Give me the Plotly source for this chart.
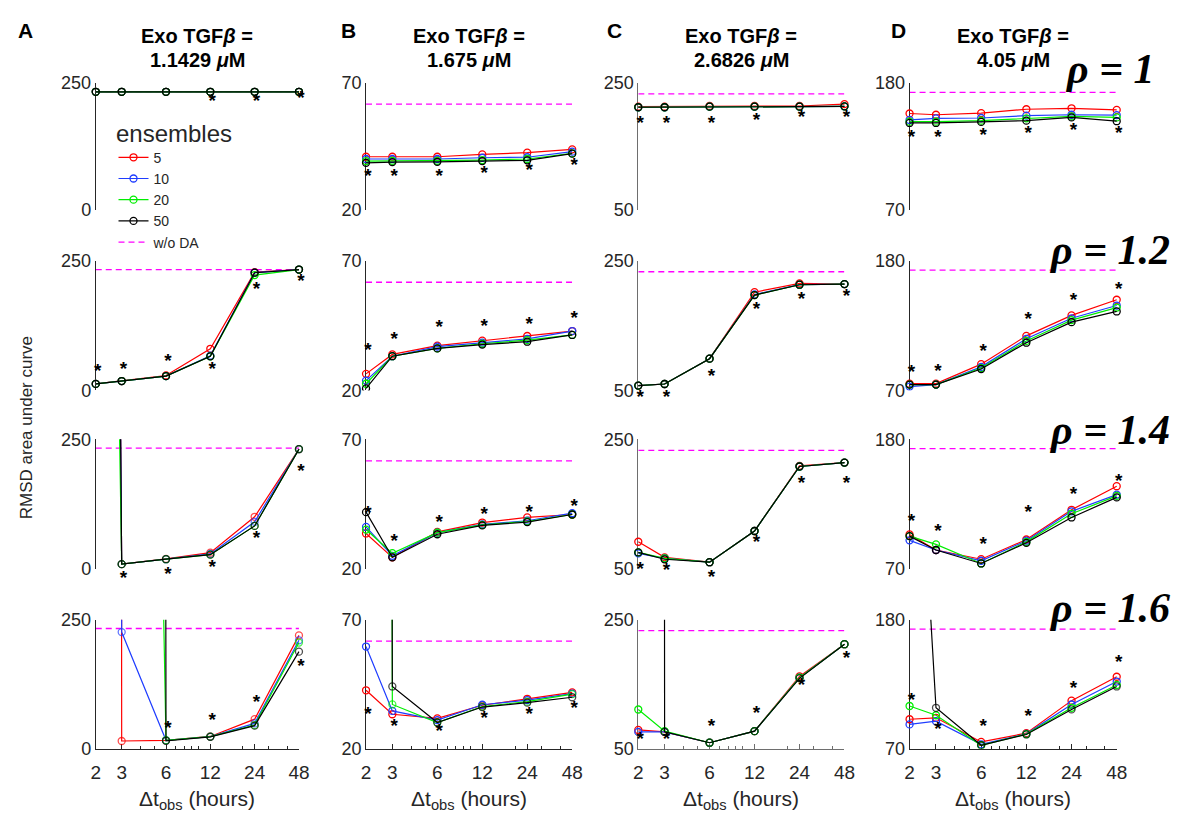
import math
import plotly.graph_objects as go

# ---- data -------------------------------------------------------------
dt_hours = [2, 3, 6, 12, 24, 48]
dt_labels = ["2", "3", "6", "12", "24", "48"]
ensemble_sizes = ["5", "10", "20", "50"]
series_colors = ["#ff0000", "#1f3dff", "#00ee00", "#000000"]
tgf_doses = ["1.1429", "1.675", "2.6826", "4.05"]
rho_values = ["1", "1.2", "1.4", "1.6"]
panel_letters = ["A", "B", "C", "D"]
y_ranges = [[0, 250], [20, 70], [50, 250], [70, 180]]
no_da = [233, 61.7, 233, 172]          # RMSD without data assimilation

# each list: one row per rho (1, 1.2, 1.4, 1.6), one value per Δt_obs
# (values far above the axis top diverged and run off the panel)
A_n5 = [[233, 233, 233, 233, 233, 233],
        [12.6, 18.2, 28.8, 80.3, 228, 233],
        [6000, 9.4, 19.5, 31.4, 100.6, 231],
        [60000, 14.6, 15.8, 23.4, 57, 219.6]]
A_n10 = [[233, 233, 233, 233, 233, 233],
         [12.6, 18.2, 27.6, 67, 227, 233],
         [6000, 9.4, 18.9, 29, 91, 231],
         [60000, 226, 16, 23, 48.8, 210]]
A_n20 = [[233, 233, 233, 233, 233, 233],
         [12.6, 18.2, 27.6, 65.8, 222.4, 233],
         [3000, 9.4, 18.9, 27.6, 83, 231],
         [60000, 4600, 16, 23, 45.6, 205.7]]
A_n50 = [[233, 233, 233, 233, 233, 233],
         [12.6, 18.2, 27.6, 65.8, 226.9, 233],
         [6000, 9.4, 18.9, 27.6, 83, 230.8],
         [60000, 60000, 15, 22.7, 44.4, 188]]
A_star = [[None, None, None, 213, 213, 219],
          [34.4, 39.5, 54.5, 39.5, 194, 208],
          [None, -19, -12.6, 1, 56.6, 187],
          [None, None, 38, 52, 87, 157]]

B_n5 = [[41.0, 41.0, 41.0, 41.9, 42.6, 43.9],
        [26.4, 33.9, 37.3, 39.2, 41.0, 42.9],
        [33.7, 24.5, 34.3, 37.9, 39.9, 41.0],
        [42.6, 33.3, 31.7, 36.8, 39.3, 41.8]]
B_n10 = [[40.1, 40.1, 40.1, 40.6, 40.8, 43.0],
         [23.8, 33.2, 36.9, 38.4, 39.9, 42.9],
         [36.2, 25.1, 34.0, 37.2, 38.6, 41.5],
         [59.6, 34.6, 31.0, 37.0, 38.8, 41.3]]
B_n20 = [[39.3, 39.4, 39.4, 39.7, 40.1, 42.3],
         [22.6, 33.2, 36.2, 38.0, 39.4, 41.4],
         [35.2, 26.1, 34.0, 37.0, 38.3, 41.0],
         [5000, 37.1, 30.1, 36.3, 38.2, 41.1]]
B_n50 = [[38.6, 38.9, 39.0, 39.3, 39.6, 42.2],
         [20.8, 33.2, 36.2, 37.7, 38.8, 41.4],
         [41.9, 24.5, 33.4, 36.8, 38.1, 41.0],
         [5000, 44.1, 30.1, 36.1, 37.8, 39.9]]
B_star = [[33.1, 33.1, 33.1, 34.1, 35.4, 37.2],
          [35, 39.5, 44, 44.4, 45.2, 47.4],
          [41.2, 30.5, 37.7, 40.6, 41.6, 43.8],
          [33, 28.3, 26.4, 31.2, 33.1, 35.2]]

C_n5 = [[213, 213, 214, 214, 214, 217],
        [57.5, 60, 99, 201.5, 215, 214],
        [92, 68, 60.5, 108.6, 209, 214],
        [78.8, 75.8, 59, 77, 162, 212]]
C_n10 = [[212, 212, 213, 213, 213, 213.5],
         [57.5, 60, 99, 198, 213, 214],
         [74, 66.5, 60.5, 108.6, 208, 214],
         [75.8, 75.8, 59, 77, 160, 212]]
C_n20 = [[212, 212, 213, 213, 213, 213.5],
         [57.5, 60, 99, 197, 213, 214],
         [75.6, 66.5, 60.5, 108.6, 208, 214],
         [110.6, 77, 59, 77, 160, 212]]
C_n50 = [[212, 212, 213, 213, 213, 213.5],
         [57.5, 60, 99, 197, 213, 214],
         [75.6, 65, 60.5, 108.6, 208, 214],
         [60000, 75.8, 59, 77, 159, 212]]
C_star = [[185, 185, 185, 190, 194, 194],
          [37.5, 37.5, 70, 173, 189, 193],
          [48.5, 47, 35, 89, 181, 181],
          [63.6, 63.6, 83, 103, 147, 188]]

D_n5 = [[153.7, 152.6, 154.0, 157.4, 158.2, 156.8],
        [75.8, 75.8, 92.3, 116.3, 133.7, 146.9],
        [99.3, 86.1, 78.3, 95, 120.2, 140.2],
        [95, 96.2, 75.6, 83.1, 110.9, 131.3]]
D_n10 = [[148.1, 149.5, 149.8, 151.8, 152.6, 152.3],
         [73.3, 75.0, 90, 113.8, 131.2, 142],
         [94.3, 86.1, 77, 94, 118.9, 133.1],
         [90.6, 93.3, 73.6, 82.5, 107.6, 127.2]]
D_n20 = [[146.6, 146.6, 147.5, 149.5, 151.2, 150.3],
         [75, 75, 89, 112, 129.6, 140.3],
         [97.9, 90.9, 74.7, 93, 116.8, 132],
         [106.3, 98.4, 72.8, 82.3, 104.8, 124.3]]
D_n50 = [[145.5, 145.5, 146.4, 147.5, 150.3, 147.0],
         [75, 75, 88.2, 110.5, 127.9, 137],
         [97.9, 86.1, 74.7, 92.2, 113.7, 130.7],
         [490, 104.8, 72.8, 82, 103.4, 123]]
D_star = [[132, 132, 134, 136, 138, 136],
          [84.9, 85.7, 102.3, 129.6, 146, 155],
          [109.8, 100.9, 89.8, 117.4, 132.8, 143.9],
          [110.4, 85.9, 88.1, 96.5, 120.7, 143]]

columns = [
    [A_n5, A_n10, A_n20, A_n50],
    [B_n5, B_n10, B_n20, B_n50],
    [C_n5, C_n10, C_n20, C_n50],
    [D_n5, D_n10, D_n20, D_n50],
]
stars = [A_star, B_star, C_star, D_star]

# ---- layout geometry (pixels on a 1180 x 819 page) ----------------------
W, H = 1180, 819
col_px = [(92, 298), (366, 575), (642, 851), (917, 1127)]
row_px = [(75, 205), (257, 390), (440, 573), (625, 757)]
letter_px = [21, 348, 618, 906]
axis_grey = ["#262626", "#262626", "#6e6e6e", "#262626"]
FONT = "Liberation Sans, Arial, Helvetica, sans-serif"
TXT = "#262626"
X_PAD = 8      # hidden data axes reach a little past the drawn x axis
Y_PAD = 30     # room for significance stars outside the value range
NP = 16


def px_x(x):
    return x / W


def px_y(y):
    return 1 - y / H


def ax_name(kind, i):
    return kind if i == 1 else f"{kind}{i}"


def ax_key(kind, i):
    return f"{kind}axis" if i == 1 else f"{kind}axis{i}"


fig = go.Figure()
layout = dict(
    width=W, height=H, margin=dict(l=0, r=0, t=0, b=0),
    paper_bgcolor="white", plot_bgcolor="rgba(0,0,0,0)",
    font=dict(family=FONT, color=TXT, size=17),
    showlegend=True,
)
annotations = []
log_lo, log_hi = math.log10(dt_hours[0]), math.log10(dt_hours[-1])

for c in range(4):
    x0, x1 = col_px[c]
    px_per_dec = (x1 - x0) / (log_hi - log_lo)
    dlog = X_PAD / px_per_dec
    for r in range(4):
        k = r * 4 + c + 1
        kd = k + NP               # hidden data axes for this panel
        y0, y1 = row_px[r]
        lo, hi = y_ranges[c]
        px_per_unit = (y1 - y0) / (hi - lo)
        dval = Y_PAD / px_per_unit
        bottom = r == 3

        # drawn axes
        xa = dict(
            domain=[px_x(x0), px_x(x1)], anchor=ax_name("y", k), type="log",
            range=[log_lo, log_hi], showgrid=False, zeroline=False,
            fixedrange=True,
        )
        if bottom:
            xa.update(
                showline=True, linecolor=axis_grey[c], linewidth=1,
                ticks="inside", ticklen=5, tickcolor=axis_grey[c],
                tickmode="array", tickvals=dt_hours, ticktext=dt_labels,
                tickfont=dict(size=19, color=TXT), ticklabelstandoff=7,
                minor=dict(ticks="inside", ticklen=3, tickcolor=axis_grey[c],
                           tickmode="array",
                           tickvals=[4, 5, 7, 8, 9, 10, 20, 30, 40]),
            )
        else:
            xa.update(showline=False, ticks="", showticklabels=False)
        layout[ax_key("x", k)] = xa
        layout[ax_key("y", k)] = dict(
            domain=[px_y(y1), px_y(y0)], anchor=ax_name("x", k),
            range=[lo, hi],
            showline=True, linecolor=axis_grey[c], linewidth=1,
            ticks="inside", ticklen=5, tickcolor=axis_grey[c],
            tickmode="array", tickvals=[lo, hi],
            tickfont=dict(size=18, color=TXT),
            showgrid=False, zeroline=False, fixedrange=True,
        )

        # hidden data axes: same scale, slightly larger window
        layout[ax_key("x", kd)] = dict(
            domain=[px_x(x0 - X_PAD), px_x(x1 + X_PAD)],
            anchor=ax_name("y", k), type="log",
            range=[log_lo - dlog, log_hi + dlog], visible=False,
            fixedrange=True,
        )
        layout[ax_key("y", kd)] = dict(
            domain=[px_y(y1 + Y_PAD), px_y(y0 - Y_PAD)],
            anchor=ax_name("x", kd), range=[lo - dval, hi + dval],
            visible=False, fixedrange=True,
        )

        xk, yk = ax_name("x", k), ax_name("y", k)
        xd, yd = ax_name("x", kd), ax_name("y", kd)

        for s in range(4):
            vals = columns[c][s][r]
            inside = [lo <= v <= hi for v in vals]
            size = 7 if all(inside) else [7 if f else 0 for f in inside]
            fig.add_trace(go.Scatter(
                x=dt_hours, y=vals, xaxis=xd, yaxis=yk,
                mode="lines+markers", name=ensemble_sizes[s],
                legendgroup=ensemble_sizes[s], showlegend=(k == 1),
                line=dict(color=series_colors[s], width=1.2),
                marker=dict(symbol="circle-open", size=size,
                            color=series_colors[s],
                            line=dict(width=1.3, color=series_colors[s])),
                cliponaxis=True,
            ))

        # reference level without assimilation, on the drawn axes
        fig.add_trace(go.Scatter(
            x=dt_hours, y=[no_da[c]] * len(dt_hours), xaxis=xk, yaxis=yk,
            mode="lines", name="w/o DA", legendgroup="noda",
            showlegend=(k == 1),
            line=dict(color="#ff00ff", width=1.3, dash="6px,4px"),
        ))

        sx = [t * 1.03 for t, v in zip(dt_hours, stars[c][r]) if v is not None]
        sy = [v for v in stars[c][r] if v is not None]
        fig.add_trace(go.Scatter(
            x=sx, y=sy, xaxis=xd, yaxis=yd, mode="text",
            text=["<b>*</b>"] * len(sx), textposition="middle center",
            textfont=dict(size=19, family=FONT, color="black"),
            cliponaxis=False, showlegend=False, hoverinfo="skip",
        ))

    # column heading and panel letter
    cx = (x0 + x1) / 2
    for line_text, ly in ((f"<b>Exo TGF<i>β</i> =</b>", 27),
                          (f"<b>{tgf_doses[c]} <i>μ</i>M</b>", 51)):
        annotations.append(dict(
            x=px_x(cx), y=px_y(ly), xref="paper", yref="paper",
            xanchor="center", yanchor="middle", showarrow=False,
            text=line_text, font=dict(size=20, color="black", family=FONT),
        ))
    annotations.append(dict(
        x=px_x(letter_px[c]), y=px_y(21), xref="paper", yref="paper",
        xanchor="center", yanchor="middle", showarrow=False,
        text=f"<b>{panel_letters[c]}</b>",
        font=dict(size=21, color="black", family=FONT),
    ))
    annotations.append(dict(
        x=px_x(cx), y=px_y(810), xref="paper", yref="paper",
        xanchor="center", yanchor="middle", showarrow=False,
        text="Δt<sub>obs</sub> (hours)",
        font=dict(size=21, color=TXT, family=FONT),
    ))

# rho labels on the right
rho_y = [60, 246, 431, 613]
for r in range(4):
    annotations.append(dict(
        x=px_x(1120), y=px_y(rho_y[r]), xref="paper", yref="paper",
        xanchor="center", yanchor="middle", showarrow=False,
        text=f"<b><i>ρ = {rho_values[r]}</i></b>",
        font=dict(size=42, color="black",
                  family="Liberation Serif, Times New Roman, serif"),
    ))

annotations.append(dict(
    x=px_x(22), y=px_y(428), xref="paper", yref="paper",
    xanchor="center", yanchor="middle", showarrow=False, textangle=-90,
    text="RMSD area under curve", font=dict(size=17, color=TXT, family=FONT),
))

layout["annotations"] = annotations
layout["legend"] = dict(
    x=px_x(110), y=px_y(103), xanchor="left", yanchor="top",
    bgcolor="rgba(0,0,0,0)", borderwidth=0,
    font=dict(size=14, color=TXT, family=FONT),
    title=dict(text="ensembles", side="top center",
               font=dict(size=24, color=TXT, family=FONT)),
    itemwidth=30, tracegroupgap=0, traceorder="normal",
)
fig.update_layout(**layout)

fig.write_html("out.html")
